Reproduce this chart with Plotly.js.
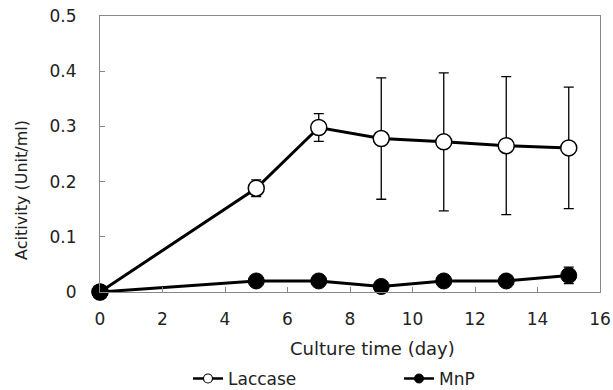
<!DOCTYPE html>
<html>
<head>
<meta charset="utf-8">
<script src="https://cdn.plot.ly/plotly-3.0.1.min.js"></script>
<style>html,body{margin:0;padding:0;background:#fff;}#chart{width:613px;height:390px;}</style>
</head>
<body>
<div id="chart"></div>
<script>
const days = [0, 5, 7, 9, 11, 13, 15];
const laccase = [0, 0.188, 0.298, 0.278, 0.272, 0.265, 0.261];
const laccaseErr = [0, 0.015, 0.025, 0.11, 0.125, 0.125, 0.11];
const mnp = [0, 0.02, 0.02, 0.01, 0.02, 0.02, 0.03];
const mnpErr = [0, 0, 0, 0, 0, 0, 0.015];
const xTicks = [0, 2, 4, 6, 8, 10, 12, 14, 16];
const yTicks = [0, 0.1, 0.2, 0.3, 0.4, 0.5];
const yTickText = ['0', '0.1', '0.2', '0.3', '0.4', '0.5'];
const seriesNames = ['Laccase', 'MnP'];
const xTitle = 'Culture time (day)';
const yTitle = 'Acitivity (Unit/ml)';

const FONT = 'DejaVu Sans, sans-serif';

const traces = [
  {
    x: days, y: laccase, name: seriesNames[0], type: 'scatter', mode: 'lines+markers',
    showlegend: false,
    line: {color: '#000', width: 3},
    marker: {symbol: 'circle', size: 16, color: '#fff', line: {color: '#000', width: 1.5}},
    error_y: {type: 'data', array: laccaseErr, visible: true, color: '#000', thickness: 1.3, width: 5},
    cliponaxis: false
  },
  {
    x: days, y: mnp, name: seriesNames[1], type: 'scatter', mode: 'lines+markers',
    showlegend: false,
    line: {color: '#000', width: 3},
    marker: {symbol: 'circle', size: 16, color: '#000', line: {color: '#000', width: 1}},
    error_y: {type: 'data', array: mnpErr, visible: true, color: '#000', thickness: 1.3, width: 5},
    cliponaxis: false
  },
  // legend entries (small symbols as in the reference legend)
  {
    x: [null], y: [null], name: seriesNames[0], type: 'scatter', mode: 'lines+markers',
    legend: 'legend',
    line: {color: '#000', width: 2.5},
    marker: {symbol: 'circle', size: 9, color: '#fff', line: {color: '#000', width: 1.2}}
  },
  {
    x: [null], y: [null], name: seriesNames[1], type: 'scatter', mode: 'lines+markers',
    legend: 'legend2',
    line: {color: '#000', width: 2.5},
    marker: {symbol: 'circle', size: 9, color: '#000', line: {color: '#000', width: 1}}
  }
];

const legendBase = {
  orientation: 'h', yanchor: 'middle', y: -0.315, xanchor: 'left',
  font: {family: FONT, size: 17, color: '#222'},
  bgcolor: 'rgba(0,0,0,0)', itemwidth: 30
};

const layout = {
  width: 613, height: 390,
  margin: {l: 100, r: 13, t: 16, b: 98, autoexpand: false},
  paper_bgcolor: '#fff', plot_bgcolor: '#fff',
  showlegend: true,
  legend: Object.assign({}, legendBase, {x: 0.176}),
  legend2: Object.assign({}, legendBase, {x: 0.598}),
  xaxis: {
    range: [0, 16], tickvals: xTicks, ticktext: xTicks.map(String),
    ticks: 'inside', ticklen: 5, tickcolor: '#888',
    showline: true, linecolor: '#888', linewidth: 1, mirror: true,
    showgrid: false, zeroline: false,
    tickfont: {family: FONT, size: 17, color: '#222'},
    ticklabelstandoff: 12
  },
  yaxis: {
    range: [0, 0.5], tickvals: yTicks, ticktext: yTickText,
    ticks: 'inside', ticklen: 5, tickcolor: '#888',
    showline: true, linecolor: '#888', linewidth: 1, mirror: true,
    showgrid: false, zeroline: false,
    tickfont: {family: FONT, size: 17, color: '#222'},
    ticklabelstandoff: 19
  },
  annotations: [
    {text: xTitle, xref: 'paper', yref: 'paper', x: 0.544, y: -0.203,
     xanchor: 'center', yanchor: 'middle', showarrow: false,
     font: {family: FONT, size: 18, color: '#222'}},
    {text: yTitle, xref: 'paper', yref: 'paper', x: -0.156, y: 0.37,
     xanchor: 'center', yanchor: 'middle', showarrow: false, textangle: -90,
     font: {family: FONT, size: 16, color: '#222'}}
  ]
};

Plotly.newPlot('chart', traces, layout, {displayModeBar: false, staticPlot: true});
</script>
</body>
</html>
